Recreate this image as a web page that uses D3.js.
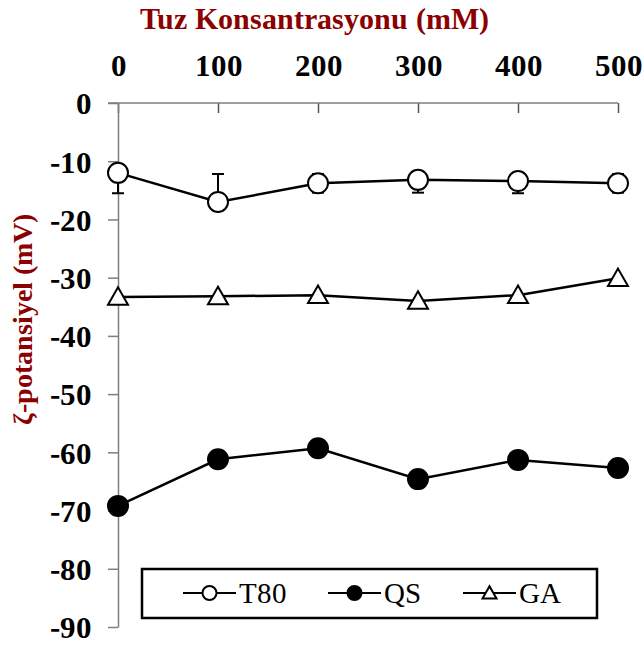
<!DOCTYPE html>
<html>
<head>
<meta charset="utf-8">
<script src="https://cdn.jsdelivr.net/npm/d3@7"></script>
<style>
  @font-face { font-family: "ChartSerif"; font-weight: 400;
    src: local("Liberation Serif"), local("LiberationSerif"), local("LiberationSerif-Regular"), local("Tinos"), local("Times New Roman"); }
  @font-face { font-family: "ChartSerif"; font-weight: 700;
    src: local("Liberation Serif Bold"), local("LiberationSerif-Bold"), local("Tinos Bold"), local("Times New Roman Bold"); }
  html, body { margin: 0; padding: 0; background: #fff; }
  svg { display: block; }
</style>
</head>
<body>
<svg id="chart" width="644" height="646"></svg>
<script>
// Salt concentration (mM)
const concentrations = [0, 100, 200, 300, 400, 500];
const xTicks = [0, 100, 200, 300, 400, 500];
const yTicks = [0, -10, -20, -30, -40, -50, -60, -70, -80, -90];

// Zeta potential (mV) per formulation
const seriesNames = ["T80", "QS", "GA"];
const t80Values = [-12.0, -17.0, -13.8, -13.2, -13.4, -13.8];
const qsValues = [-69.2, -61.2, -59.3, -64.6, -61.3, -62.7];
const gaValues = [-33.3, -33.2, -33.0, -34.0, -33.0, -30.1];

// T80 error bars (upper / lower extents, mV)
const t80ErrPlus = [0, 4.8, 1.6, 0, 0, 1.6];
const t80ErrMinus = [3.5, 0, 1.6, 2.2, 2.1, 1.6];

const titleText = "Tuz Konsantrasyonu (mM)";
const yTitleText = "ζ-potansiyel (mV)";

const FONT = "ChartSerif, Liberation Serif, Tinos, DejaVu Serif, serif";

const svg = d3.select("#chart").attr("font-family", FONT);
const x = d3.scaleLinear().domain([0, 500]).range([118, 618]);
const y = d3.scaleLinear().domain([0, -90]).range([103, 627]);

const axisColor = "#7f7f7f";
const titleColor = "#8b0000";

// Top (x) axis
const xAxis = d3.axisTop(x).tickValues(xTicks).tickSize(-10).tickSizeOuter(0).tickPadding(0);
const gx = svg.append("g").attr("transform", `translate(0,${y(0)})`).call(xAxis);
gx.attr("font-family", FONT).attr("font-size", 31).attr("font-weight", "bold");
gx.select(".domain").remove();
gx.append("line").attr("x1", 108).attr("x2", x(500)).attr("y1", 0).attr("y2", 0)
  .attr("stroke", axisColor).attr("stroke-width", 1.5);
gx.selectAll(".tick line").attr("stroke", "#555").attr("stroke-width", 1.5);
gx.selectAll(".tick text").attr("y", -27).attr("fill", "#000")
  .style("font-family", FONT).style("font-weight", "700");

// Left (y) axis
const yAxis = d3.axisLeft(y).tickValues(yTicks).tickSize(10).tickSizeOuter(0).tickPadding(16)
  .tickFormat(d => d === 0 ? "0" : "-" + Math.abs(d));
const gy = svg.append("g").attr("transform", `translate(${x(0)},0)`).call(yAxis);
gy.attr("font-family", FONT).attr("font-size", 31).attr("font-weight", "bold");
gy.select(".domain").attr("stroke", axisColor).attr("stroke-width", 1.5);
gy.selectAll(".tick line").attr("stroke", axisColor).attr("stroke-width", 1.5);
gy.selectAll(".tick text").attr("fill", "#000").attr("dy", "0.35em")
  .style("font-family", FONT).style("font-weight", "700");

// Titles
svg.append("text").attr("x", 314).attr("y", 29).attr("text-anchor", "middle")
  .attr("fill", titleColor).style("font-family", FONT).style("font-weight", "700")
  .attr("font-size", 29.5).text(titleText);
svg.append("text").attr("transform", "translate(32,319) rotate(-90)").attr("text-anchor", "middle")
  .attr("fill", titleColor).style("font-family", FONT).style("font-weight", "700")
  .attr("font-size", 28).text(yTitleText);

const line = d3.line().x((d, i) => x(concentrations[i])).y(d => y(d));
const plot = svg.append("g");

// Error bars for T80
const eb = plot.append("g").attr("stroke", "#000").attr("stroke-width", 2);
concentrations.forEach((c, i) => {
  const v = t80Values[i];
  [[t80ErrPlus[i], 1], [t80ErrMinus[i], -1]].forEach(([e, s]) => {
    if (e <= 0) return;
    const ye = y(v + s * e);
    eb.append("line").attr("x1", x(c)).attr("x2", x(c)).attr("y1", y(v)).attr("y2", ye);
    eb.append("line").attr("x1", x(c) - 6).attr("x2", x(c) + 6).attr("y1", ye).attr("y2", ye);
  });
});

const series = [
  { name: seriesNames[0], values: t80Values, shape: "circle", fill: "#fff" },
  { name: seriesNames[1], values: qsValues, shape: "circle", fill: "#000" },
  { name: seriesNames[2], values: gaValues, shape: "triangle", fill: "#fff" }
];

function drawMarker(g, shape, fill, cx, cy, size) {
  if (shape === "circle") {
    g.append("circle").attr("cx", cx).attr("cy", cy).attr("r", size)
      .attr("fill", fill).attr("stroke", "#000").attr("stroke-width", 2);
  } else {
    const h = size * 1.75, w = size * 2;
    g.append("path")
      .attr("d", `M${cx},${cy - h * 0.55} L${cx + w / 2},${cy + h * 0.45} L${cx - w / 2},${cy + h * 0.45} Z`)
      .attr("fill", fill).attr("stroke", "#000").attr("stroke-width", 2).attr("stroke-linejoin", "miter");
  }
}

series.forEach(s => {
  plot.append("path").datum(s.values).attr("d", line)
    .attr("fill", "none").attr("stroke", "#000").attr("stroke-width", 2.5);
});
series.forEach(s => {
  s.values.forEach((v, i) => drawMarker(plot, s.shape, s.fill, x(concentrations[i]), y(v), 10));
});

// Legend
const lg = svg.append("g");
lg.append("rect").attr("x", 142).attr("y", 569).attr("width", 455).attr("height", 49)
  .attr("fill", "#fff").attr("stroke", "#000").attr("stroke-width", 2.5);
const legendX = [183, 328, 463];
series.forEach((s, i) => {
  const lx = legendX[i], ly = 593;
  lg.append("line").attr("x1", lx).attr("x2", lx + 53).attr("y1", ly).attr("y2", ly)
    .attr("stroke", "#000").attr("stroke-width", 2);
  drawMarker(lg, s.shape, s.fill, lx + 26.5, ly, 7);
  lg.append("text").attr("x", lx + 56).attr("y", ly + 10).attr("fill", "#000")
    .style("font-family", FONT).style("font-weight", "400").attr("font-size", 29).text(s.name);
});
</script>
</body>
</html>
